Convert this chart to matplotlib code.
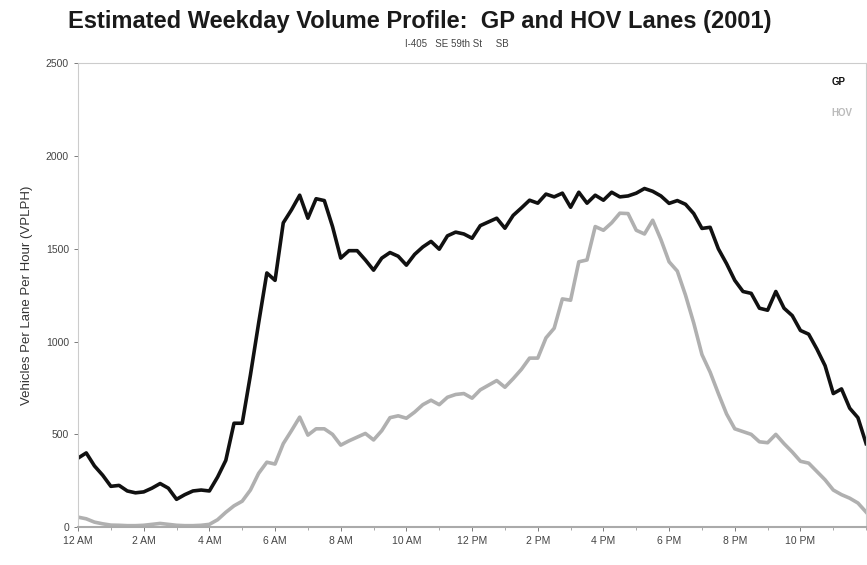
import numpy as np
import matplotlib.pyplot as plt

# 15-minute volume profile, midnight to midnight
heures = np.arange(0, 24.01, 0.25)

gp = [372, 400, 330, 280, 220, 225, 195, 185, 190, 210, 235, 210,
      150, 175, 195, 200, 195, 270, 360, 560, 560, 820, 1100, 1370,
      1330, 1640, 1710, 1789, 1665, 1770, 1760, 1620, 1450, 1490, 1490, 1440,
      1385, 1450, 1480, 1460, 1412, 1470, 1510, 1540, 1498, 1570, 1590, 1580,
      1557, 1625, 1645, 1665, 1611, 1680, 1720, 1762, 1746, 1795, 1780, 1800,
      1724, 1805, 1746, 1789, 1762, 1805, 1780, 1785, 1800, 1825, 1810, 1785,
      1745, 1760, 1740, 1690, 1610, 1616, 1500, 1420, 1330, 1270, 1260, 1180,
      1169, 1270, 1180, 1140, 1060, 1040, 960, 870, 720, 745, 641, 590, 450]

hov = [54, 45, 27, 18, 11, 10, 8, 8, 10, 15, 20, 15,
       10, 8, 8, 10, 15, 40, 80, 115, 140, 200, 290, 350,
       340, 450, 520, 593, 496, 530, 530, 500, 442, 465, 485, 505,
       470, 520, 590, 600, 587, 620, 660, 684, 660, 700, 715, 720,
       695, 740, 765, 790, 754, 800, 850, 911, 911, 1020, 1072, 1230,
       1223, 1430, 1440, 1620, 1600, 1640, 1692, 1690, 1600, 1580, 1654, 1550,
       1430, 1380, 1250, 1100, 930, 835, 720, 610, 530, 515, 500, 460,
       455, 500, 450, 405, 355, 345, 300, 255, 200, 175, 156, 130, 81]

positions_x = [0, 2, 4, 6, 8, 10, 12, 14, 16, 18, 20, 22]
etiquettes_x = ['12 AM', '2 AM', '4 AM', '6 AM', '8 AM', '10 AM',
                '12 PM', '2 PM', '4 PM', '6 PM', '8 PM', '10 PM']

plt.rcParams['font.family'] = ['Liberation Sans', 'DejaVu Sans']

fig = plt.figure(figsize=(8.67, 5.65), dpi=100)
ax = fig.add_axes([0.09, 0.067, 0.909, 0.821])

ax.plot(heures, gp, color='#111111', linewidth=2.6, label='GP')
ax.plot(heures, hov, color='#b0b0b0', linewidth=2.6, label='HOV')

ax.set_xlim(0, 24)
ax.set_ylim(0, 2500)
ax.set_yticks(range(0, 2501, 500))
ax.set_xticks(positions_x)
ax.set_xticklabels(etiquettes_x)
ax.set_xticks(range(0, 25), minor=True)
ax.tick_params(axis='both', labelsize=7.5, colors='#666666', length=3, width=0.6)
ax.tick_params(axis='x', which='minor', length=2, width=0.6, colors='#999999')
for tl in ax.get_xticklabels() + ax.get_yticklabels():
    tl.set_color('#444444')

for cote in ax.spines.values():
    cote.set_color('#cccccc')
    cote.set_linewidth(0.8)
ax.spines['bottom'].set_color('#aaaaaa')
ax.spines['bottom'].set_linewidth(1.5)

ax.set_ylabel('Vehicles Per Lane Per Hour (VPLPH)', fontsize=9.5,
              color='#333333', labelpad=9)

leg = ax.legend(loc='upper right', frameon=False, handlelength=0,
                handletextpad=0, fontsize=7, labelspacing=2.2,
                borderaxespad=1.0)
for texte, couleur in zip(leg.get_texts(), ['#111111', '#bbbbbb']):
    texte.set_color(couleur)
    texte.set_fontweight('bold')

fig.text(0.484, 0.962, 'Estimated Weekday Volume Profile:  GP and HOV Lanes (2001)',
         ha='center', va='center', fontsize=17, fontweight='bold',
         color='#1a1a1a')
fig.text(0.527, 0.922, 'I-405   SE 59th St     SB', ha='center', va='center',
         fontsize=7, color='#444444')

plt.savefig('out.png', dpi=100)
plt.close()
